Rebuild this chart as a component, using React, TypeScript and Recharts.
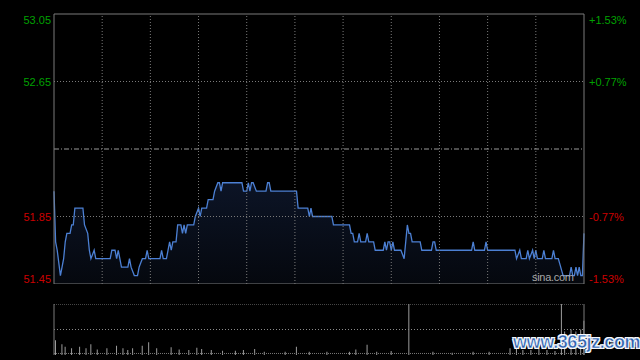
import React from "react";
import {
  ComposedChart,
  Area,
  Bar,
  XAxis,
  YAxis,
  ReferenceLine,
} from "recharts";

// ---- price series (minute index from open, price) ----
const priceTimes = [
  0, 1, 2, 4, 5, 6, 7, 8, 10, 11, 12, 13, 18, 19, 21, 22, 23, 25, 26, 35, 36, 38, 39, 40, 41, 42, 46, 47, 48, 50, 52,
  53, 55, 57, 58, 59, 66, 67, 68, 70, 72, 73, 74, 76, 77, 79, 80, 81, 82, 83, 87, 88, 90, 91, 92, 95, 96, 99, 100,
  102, 103, 104, 105, 117, 118, 120, 121, 122, 123, 124, 126, 132, 133, 134, 135, 151, 152, 158, 159, 160, 161, 173,
  174, 184, 185, 186, 187, 189, 190, 191, 194, 195, 196, 199, 200, 205, 206, 207, 208, 209, 210, 211, 212, 216, 218,
  220, 221, 222, 223, 228, 229, 235, 236, 237, 238, 260, 261, 262, 268, 269, 270, 287, 288, 290, 291, 294, 295, 296,
  298, 299, 300, 301, 304, 305, 306, 310, 311, 312, 314, 317, 321, 322, 323, 324, 325, 326, 327, 328, 329, 330,
];
const priceValues = [
  52.0, 51.7, 51.65, 51.5, 51.55, 51.6, 51.7, 51.75, 51.75, 51.8, 51.8, 51.9, 51.9, 51.8, 51.75, 51.65, 51.6, 51.65,
  51.6, 51.6, 51.65, 51.65, 51.6, 51.65, 51.6, 51.55, 51.55, 51.6, 51.55, 51.5, 51.5, 51.55, 51.6, 51.6, 51.65, 51.6,
  51.6, 51.65, 51.6, 51.6, 51.7, 51.65, 51.7, 51.7, 51.8, 51.8, 51.75, 51.8, 51.75, 51.8, 51.8, 51.85, 51.9, 51.85,
  51.9, 51.9, 51.95, 51.95, 52.0, 52.05, 52.05, 52.0, 52.05, 52.05, 52.0, 52.0, 52.05, 52.0, 52.05, 52.05, 52.0, 52.0,
  52.05, 52.05, 52.0, 52.0, 51.9, 51.9, 51.85, 51.9, 51.85, 51.85, 51.8, 51.8, 51.75, 51.75, 51.7, 51.7, 51.75, 51.7,
  51.7, 51.75, 51.7, 51.7, 51.65, 51.65, 51.7, 51.65, 51.7, 51.7, 51.65, 51.7, 51.65, 51.65, 51.6, 51.8, 51.75, 51.75,
  51.7, 51.7, 51.65, 51.65, 51.7, 51.7, 51.65, 51.65, 51.7, 51.65, 51.65, 51.7, 51.65, 51.65, 51.6, 51.65, 51.6, 51.6,
  51.65, 51.6, 51.65, 51.6, 51.65, 51.6, 51.6, 51.65, 51.6, 51.6, 51.65, 51.6, 51.6, 51.5, 51.5, 51.55, 51.5, 51.5,
  51.55, 51.5, 51.55, 51.5, 51.5, 51.75,
];

// ---- volume series (minute index, relative volume) ----
const volumeTimes = [
  1, 5, 7, 11, 16, 20, 23, 27, 33, 39, 43, 46, 49, 55, 59, 64, 73, 78, 84, 89, 92, 98, 105, 113, 118, 125, 131, 144,
  151, 159, 170, 184, 188, 195, 201, 210, 221, 236, 248, 261, 271, 284, 288, 292, 297, 302, 307, 312, 316, 318, 322,
  325, 328, 330,
];
const volumeValues = [
  29, 21, 16, 13, 16, 13, 21, 11, 13, 18, 13, 10, 13, 18, 25, 13, 15, 11, 10, 14, 12, 10, 8.5, 8.5, 10, 12, 6.5, 6.5,
  16, 6.5, 6.5, 6.5, 11, 20, 6.5, 8, 100, 6.5, 4.5, 6.5, 6.5, 13, 15, 10, 10, 13, 10, 8, 100, 46, 50, 46, 50, 67,
];

// ---- axes ----
const prevClose = 52.25;
const priceTicks = [53.05, 52.65, 52.25, 51.85, 51.45];
const priceTickLabels = ["53.05", "52.65", "", "51.85", "51.45"];
const pctTickLabels = ["+1.53%", "+0.77%", "", "-0.77%", "-1.53%"];
const timeGrid = [30, 60, 90, 120, 150, 180, 210, 240, 270, 300];
const dottedPrices = [52.65, 51.85];

const priceData = priceTimes.map((t, i) => ({ t, p: priceValues[i] }));
const volumeData = volumeTimes.map((t, i) => ({ t, v: volumeValues[i] }));

const FONT = "'Liberation Sans', Arial, sans-serif";
const GREEN = "#00a000";
const RED = "#cc0000";

const tickDy = (v: number) => (v === 53.05 ? 9.5 : v === 51.45 ? -1.5 : 4);
const tickColor = (v: number) => (v > prevClose ? GREEN : RED);

const LeftTick = (props: any) => {
  const { x, y, payload } = props;
  const v = payload.value as number;
  const idx = priceTicks.indexOf(v);
  const label = priceTickLabels[idx] ?? "";
  if (!label) return null;
  return (
    <text x={x} y={y} dy={tickDy(v)} textAnchor="end" fill={tickColor(v)} fontSize={11} fontFamily={FONT}>
      {label}
    </text>
  );
};

const RightTick = (props: any) => {
  const { x, y, payload } = props;
  const v = payload.value as number;
  const idx = priceTicks.indexOf(v);
  const label = pctTickLabels[idx] ?? "";
  if (!label) return null;
  return (
    <text x={x} y={y} dy={tickDy(v)} textAnchor="start" fill={tickColor(v)} fontSize={11} fontFamily={FONT}>
      {label}
    </text>
  );
};

export default function App() {
  return (
    <div
      style={{
        position: "absolute",
        left: 0,
        top: 0,
        width: 640,
        height: 360,
        background: "#000",
        overflow: "hidden",
      }}
    >
      <div style={{ position: "absolute", left: 0, top: 0 }}>
        <ComposedChart width={640} height={284} data={priceData} margin={{ top: 14, right: 0, bottom: 0, left: 0 }}>
          <defs>
            <linearGradient id="areaFill" x1="0" y1="0" x2="0" y2="1">
              <stop offset="0%" stopColor="#0c1426" stopOpacity={1} />
              <stop offset="100%" stopColor="#05080e" stopOpacity={1} />
            </linearGradient>
          </defs>
          <XAxis dataKey="t" type="number" domain={[0, 330]} hide />
          <YAxis
            yAxisId="left"
            width={54}
            domain={[51.45, 53.05]}
            ticks={priceTicks}
            interval={0}
            axisLine={false}
            tickLine={false}
            tickSize={0}
            tickMargin={3}
            tick={<LeftTick />}
            allowDataOverflow
          />
          <YAxis
            yAxisId="right"
            orientation="right"
            width={56}
            domain={[51.45, 53.05]}
            ticks={priceTicks}
            interval={0}
            axisLine={false}
            tickLine={false}
            tickSize={0}
            tickMargin={5}
            tick={<RightTick />}
            allowDataOverflow
          />
          {timeGrid.map((t) => (
            <ReferenceLine key={"v" + t} yAxisId="left" x={t} stroke="#7a7a7a" strokeDasharray="1 2" />
          ))}
          {dottedPrices.map((p) => (
            <ReferenceLine key={"h" + p} yAxisId="left" y={p} stroke="#7a7a7a" strokeDasharray="1 2" />
          ))}
          <ReferenceLine yAxisId="left" y={prevClose} stroke="#9a9a9a" strokeDasharray="5 2 1 2" />
          <Area
            yAxisId="left"
            dataKey="p"
            type="linear"
            stroke="#4c80d4"
            strokeWidth={1.3}
            fill="url(#areaFill)"
            fillOpacity={1}
            baseValue={51.45}
            isAnimationActive={false}
            dot={false}
            activeDot={false}
          />
          <ReferenceLine yAxisId="left" y={53.05} stroke="#7a7a7a" />
          <ReferenceLine yAxisId="left" y={51.45} stroke="#7a7a7a" />
          <ReferenceLine yAxisId="left" x={0} stroke="#7a7a7a" />
          <ReferenceLine yAxisId="left" x={330} stroke="#7a7a7a" />
        </ComposedChart>
      </div>

      <div
        style={{
          position: "absolute",
          left: 532,
          top: 271,
          fontFamily: FONT,
          fontSize: 11,
          color: "#a8a8a8",
          letterSpacing: -0.3,
        }}
      >
        sina.com
      </div>

      <div style={{ position: "absolute", left: 0, top: 304 }}>
        <ComposedChart width={640} height={51} data={volumeData} margin={{ top: 0, right: 56, bottom: 0, left: 54 }}>
          <XAxis dataKey="t" type="number" domain={[0, 330]} hide />
          <YAxis domain={[0, 100]} hide allowDataOverflow />
          <ReferenceLine y={100} stroke="#8a8a8a" strokeDasharray="1 1" />
          <ReferenceLine y={50} stroke="#8a8a8a" strokeDasharray="1 2" />
          <ReferenceLine y={3} stroke="#777" strokeDasharray="1 1" />
          <ReferenceLine x={0} stroke="#7a7a7a" />
          <ReferenceLine x={330} stroke="#7a7a7a" />
          <Bar dataKey="v" fill="#9c9c9c" barSize={1} isAnimationActive={false} />
        </ComposedChart>
      </div>

      <div
        style={{
          position: "absolute",
          left: 513,
          top: 332,
          fontFamily: FONT,
          fontSize: 18,
          fontWeight: "bold",
          color: "#2f5fae",
          WebkitTextStroke: "0.6px #dfe8f5",
          textShadow: "1px 1px 0 #ffffff, -1px -1px 0 #ffffff, 1px -1px 0 #ffffff, -1px 1px 0 #ffffff",
          letterSpacing: -0.4,
        }}
      >
        www.365jz.com
      </div>
    </div>
  );
}
